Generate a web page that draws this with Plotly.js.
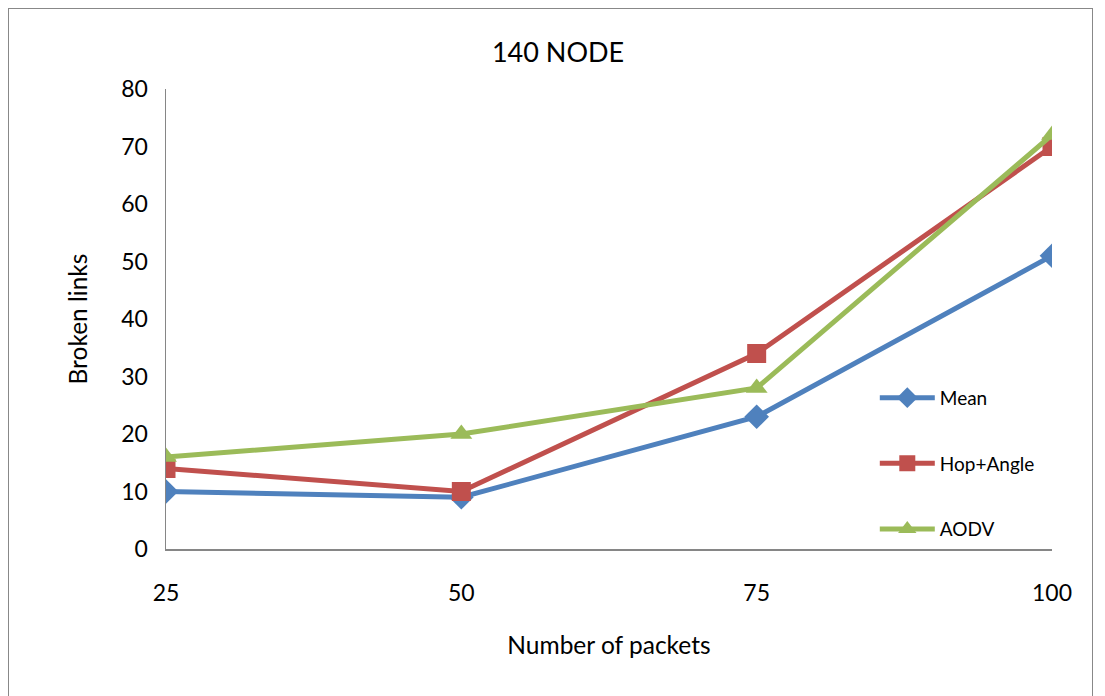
<!DOCTYPE html>
<html>
<head>
<meta charset="utf-8">
<script src="https://cdn.plot.ly/plotly-3.0.1.min.js"></script>
<style>
html,body{margin:0;padding:0;background:#fff;}
#wrap{position:relative;width:1105px;height:696px;}
#chart{width:1105px;height:696px;}
#frame{position:absolute;left:8px;top:8px;width:1085px;height:700px;border:1.5px solid #888;pointer-events:none;box-sizing:border-box;}
</style>
</head>
<body>
<div id="wrap"><div id="chart"></div><div id="frame"></div></div>
<script>
const categories = ['25', '50', '75', '100'];
const meanValues = [10, 9, 23, 51];
const hopAngleValues = [14, 10, 34, 70];
const aodvValues = [16, 20, 28, 72];
const seriesNames = ['Mean', 'Hop+Angle', 'AODV'];
const yTicks = [0, 10, 20, 30, 40, 50, 60, 70, 80];

const FONT = 'Lato, "Open Sans", sans-serif';

function mk(name, vals, color, symbol, size, grp) {
  return {
    type: 'scatter', mode: 'lines+markers', name: name,
    x: categories, y: vals, legendgroup: grp,
    line: {color: color, width: 5},
    marker: {color: color, symbol: symbol, size: size}
  };
}

const data = [
  mk(seriesNames[0], meanValues, '#4F81BD', 'diamond', 19, 'a'),
  mk(seriesNames[1], hopAngleValues, '#C0504D', 'square', 19, 'b'),
  mk(seriesNames[2], aodvValues, '#9BBB59', 'triangle-up', 19, 'c')
];

const layout = {
  width: 1105, height: 696,
  margin: {l: 166, r: 53, t: 89, b: 147},
  paper_bgcolor: '#fff', plot_bgcolor: '#fff',
  font: {family: FONT, size: 23, color: '#000'},
  title: {text: '140 NODE', font: {family: FONT, size: 27, color: '#000'}, x: 0.505, xanchor: 'center', y: 0.925, yanchor: 'middle'},
  xaxis: {
    type: 'category', range: [0, 3], showgrid: false, zeroline: false,
    showline: true, linecolor: '#868686', linewidth: 1.5,
    ticks: '', ticklabelstandoff: 23, tickfont: {size: 23},
    title: {text: 'Number of packets', font: {size: 24.5}, standoff: 32},
    automargin: false, fixedrange: true
  },
  yaxis: {
    range: [0, 80], tickvals: yTicks, showgrid: false, zeroline: false,
    showline: true, linecolor: '#868686', linewidth: 1.5,
    ticks: '', ticklabelstandoff: 12, tickfont: {size: 23},
    title: {text: 'Broken links', font: {size: 24.5}, standoff: 26},
    automargin: false, fixedrange: true
  },
  showlegend: true,
  legend: {
    x: 0.8, y: 0.37, xanchor: 'left', yanchor: 'top',
    font: {family: FONT, size: 19, color: '#000'},
    traceorder: 'grouped', tracegroupgap: 38, bgcolor: 'rgba(0,0,0,0)',
    itemwidth: 55
  }
};

Plotly.newPlot('chart', data, layout, {displayModeBar: false, staticPlot: true});
</script>
</body>
</html>
